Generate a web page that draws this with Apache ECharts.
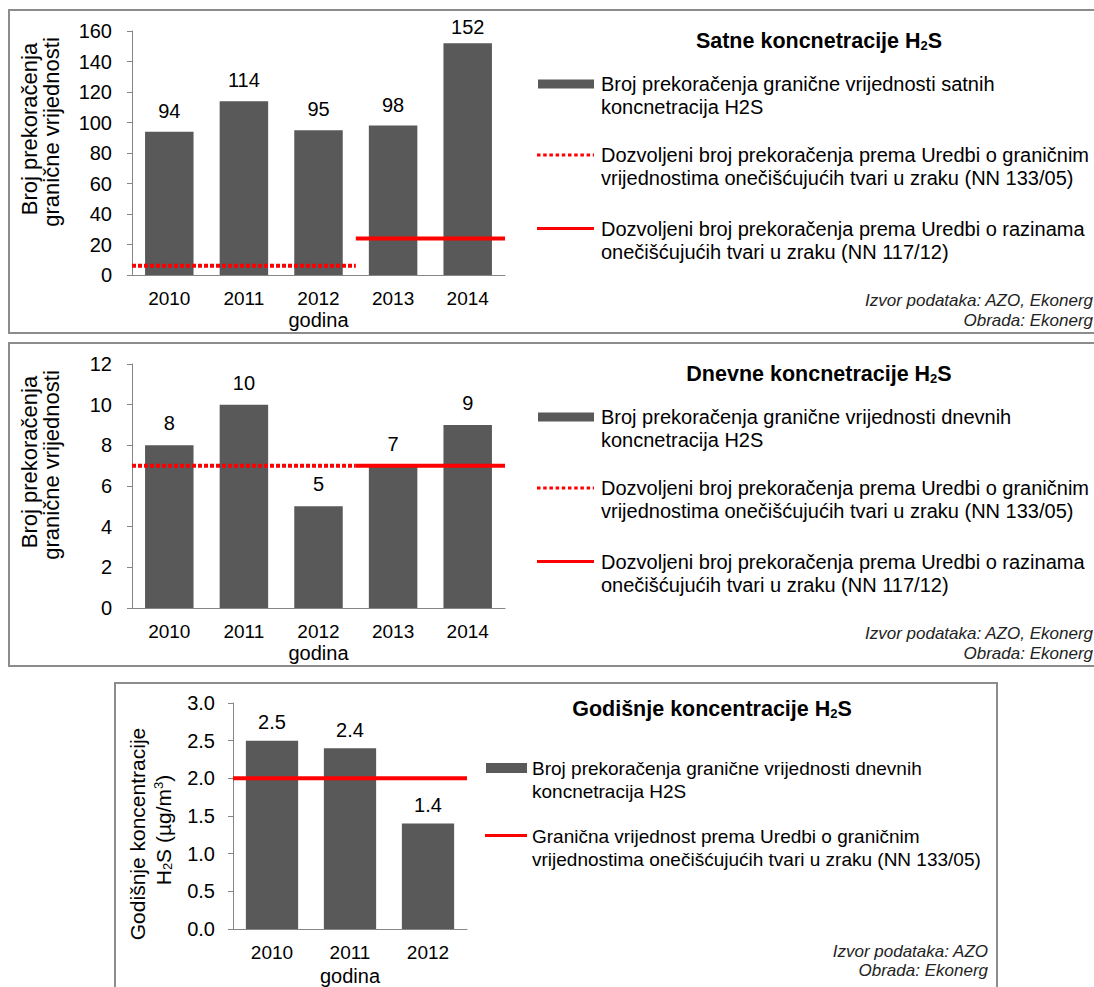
<!DOCTYPE html>
<html>
<head>
<meta charset="utf-8">
<script src="https://cdn.jsdelivr.net/npm/echarts@6/dist/echarts.min.js"></script>
<style>
  html, body { margin: 0; padding: 0; background: #ffffff; }
  #chart { width: 1094px; height: 987px; }
</style>
</head>
<body>
<div id="chart"></div>
<script>
// ---- data ----------------------------------------------------------------
// Years shown on each category axis
const yearsHourly = ['2010', '2011', '2012', '2013', '2014'];
const yearsDaily  = ['2010', '2011', '2012', '2013', '2014'];
const yearsAnnual = ['2010', '2011', '2012'];

// Number of exceedances of the hourly and daily H2S limit values
const hourlyExceedances = [94, 114, 95, 98, 152];
const dailyExceedances  = [8, 10, 5, 7, 9];
// Annual mean H2S concentration (µg/m³)
const annualMean = [2.5, 2.4, 1.4];

// Permitted number of exceedances under the two regulations
const hourlyAllowedOld = 6;    // NN 133/05
const hourlyAllowedNew = 24;   // NN 117/12
const dailyAllowedOld  = 7;    // NN 133/05
const dailyAllowedNew  = 7;    // NN 117/12
const oldRuleYears = ['2010', '2012'];
const newRuleYears = ['2013', '2014'];
// Annual limit value (NN 133/05)
const annualLimit = 2.0;
const annualLimitYears = ['2010', '2012'];

// Value-axis ranges
const hourlyRange = { min: 0, max: 160, interval: 20 };
const dailyRange  = { min: 0, max: 12,  interval: 2 };
const annualRange = { min: 0, max: 3,   interval: 0.5 };

// Texts
const titles = ['Satne koncnetracije H', 'Dnevne koncnetracije H', 'Godišnje koncentracije H'];
const legendHourly = [
  'Broj prekoračenja granične vrijednosti satnih\nkoncnetracija H2S',
  'Dozvoljeni broj prekoračenja prema Uredbi o graničnim\nvrijednostima onečišćujućih tvari u zraku (NN 133/05)',
  'Dozvoljeni broj prekoračenja prema Uredbi o razinama\nonečišćujućih tvari u zraku (NN 117/12)'
];
const legendDaily = [
  'Broj prekoračenja granične vrijednosti dnevnih\nkoncnetracija H2S',
  legendHourly[1],
  legendHourly[2]
];
const legendAnnual = [
  'Broj prekoračenja granične vrijednosti dnevnih\nkoncnetracija H2S',
  'Granična vrijednost prema Uredbi o graničnim\nvrijednostima onečišćujućih tvari u zraku (NN 133/05)'
];
const sourceFull = 'Izvor podataka: AZO, Ekonerg\nObrada: Ekonerg';
const sourceShort = 'Izvor podataka: AZO\nObrada: Ekonerg';
const axisNameCount = ['Broj prekoračenja', 'granične vrijednosti'];
const axisNameAnnual = 'Godišnje koncentracije';
const xAxisName = 'godina';

// ---- styling -------------------------------------------------------------
const FONT = '"Liberation Sans", Arial, Helvetica, sans-serif';
const BAR = '#595959';
const RED = '#ff0000';
const AXIS = '#868686';
const FRAME = '#8c8c8c';

// Converts a year range into band edges on a 0..N value axis
function limitLine(years, range, value) {
  const a = years.indexOf(range[0]);
  const b = years.indexOf(range[1]) + 1;
  return [[a, value], [b, value]];
}

function categoryAxis(grid, years, gap) {
  return {
    type: 'category', gridIndex: grid, data: years,
    axisLine: { lineStyle: { color: AXIS, width: 1 } },
    axisTick: { length: 6, lineStyle: { color: AXIS } },
    axisLabel: { color: '#000', fontFamily: FONT, fontSize: 19, margin: 14 },
    name: xAxisName, nameLocation: 'middle', nameGap: gap,
    nameTextStyle: { color: '#000', fontFamily: FONT, fontSize: 20 }
  };
}
function valueAxis(grid, range, margin, fmt) {
  return {
    type: 'value', gridIndex: grid,
    min: range.min, max: range.max, interval: range.interval,
    axisLine: { show: true, lineStyle: { color: AXIS, width: 1 } },
    axisTick: { show: true, length: 5, lineStyle: { color: AXIS } },
    splitLine: { show: false },
    axisLabel: { color: '#000', fontFamily: FONT, fontSize: 20, margin: margin, formatter: fmt }
  };
}
function hiddenBandAxis(grid, n) {
  return { type: 'value', gridIndex: grid, min: 0, max: n, show: false };
}
function barSeries(xi, yi, values, dist, layout) {
  return {
    type: 'bar', xAxisIndex: xi, yAxisIndex: yi, data: values,
    barWidth: '65%', itemStyle: { color: BAR },
    label: { show: true, position: 'top', distance: dist, color: '#000',
             fontFamily: FONT, fontSize: 20 },
    labelLayout: layout, z: 2
  };
}
function limitSeries(xi, yi, pts, dotted) {
  return {
    type: 'line', xAxisIndex: xi, yAxisIndex: yi, data: pts,
    symbol: 'none', silent: true, z: 4,
    lineStyle: { color: RED, width: 4, type: dotted ? [4, 2] : 'solid', cap: 'butt' }
  };
}

// ---- decorative elements: frames, titles, legends, axis titles -----------
const graphics = [];
function text(x, y, str, o) {
  graphics.push({
    type: 'text', x: x, y: y, rotation: o.rotation || 0, silent: true,
    style: Object.assign({
      text: str, fill: '#000', fontFamily: FONT, fontSize: 20,
      align: o.align || 'left', verticalAlign: o.va || 'top',
      textAlign: o.align || 'left', textVerticalAlign: o.va || 'top'
    }, o.style || {})
  });
}
function frame(x, y, w, h) {
  graphics.push({ type: 'rect', silent: true, shape: { x: x, y: y, width: w, height: h },
                  style: { fill: 'none', stroke: FRAME, lineWidth: 2 } });
}
function title(cx, cy, str) {
  text(cx, cy, '{t|' + str + '}{s|2}{t|S}', {
    align: 'center', va: 'middle',
    style: { rich: {
      t: { fontFamily: FONT, fontSize: 21.5, fontWeight: 'bold', fill: '#000', lineHeight: 22 },
      s: { fontFamily: FONT, fontSize: 13, fontWeight: 'bold', fill: '#000', lineHeight: 8, verticalAlign: 'bottom' }
    } }
  });
}
function legendBar(x, y, w, h) {
  graphics.push({ type: 'rect', silent: true, shape: { x: x, y: y, width: w, height: h },
                  style: { fill: BAR } });
}
function legendLine(x1, x2, y, dotted) {
  graphics.push({ type: 'line', silent: true, shape: { x1: x1, y1: y, x2: x2, y2: y },
                  style: { stroke: RED, lineWidth: 3, lineDash: dotted ? [3.5, 2.7] : null } });
}

// Panels 1 and 2 share one layout; panel 2 sits 333px lower
[[0, legendHourly, titles[0]], [333, legendDaily, titles[1]]].forEach(function (p) {
  const oy = p[0];
  frame(9, 10 + oy, 1100, 323);
  title(819, 41 + oy, p[2]);
  legendBar(538, 79.5 + oy, 56, 9);
  legendLine(537, 594, 155 + oy, true);
  legendLine(537, 594, 228.5 + oy, false);
  const rows = [84, 155, 229];
  p[1].forEach(function (s, i) {
    text(601, rows[i] - 11.5 + oy, s, { style: { lineHeight: 23, fontSize: 20 } });
  });
  text(1093, 290 + oy, sourceFull, { align: 'right',
    style: { fontSize: 17, fontStyle: 'italic', lineHeight: 20, fill: '#222' } });
  text(29, 129 + oy, axisNameCount[0], { align: 'center', va: 'middle', rotation: Math.PI / 2,
    style: { fontSize: 22 } });
  text(51, 132 + oy, axisNameCount[1], { align: 'center', va: 'middle', rotation: Math.PI / 2,
    style: { fontSize: 22 } });
});

// Panel 3
frame(115, 683, 882, 330);
title(712, 709, titles[2]);
legendBar(486, 763, 41, 10);
legendLine(485, 527, 835.5, false);
text(532, 768 - 11.5, legendAnnual[0], { style: { lineHeight: 23, fontSize: 19 } });
text(532, 836 - 11.5, legendAnnual[1], { style: { lineHeight: 23, fontSize: 19 } });
text(988, 941.5, sourceShort, { align: 'right',
  style: { fontSize: 17, fontStyle: 'italic', lineHeight: 19, fill: '#222' } });
text(137, 834, axisNameAnnual, { align: 'center', va: 'middle', rotation: Math.PI / 2,
  style: { fontSize: 21 } });
text(163, 830, '{a|H}{b|2}{a|S (µg/m}{c|3}{a|)}', { align: 'center', va: 'middle', rotation: Math.PI / 2,
  style: { rich: {
    a: { fontFamily: FONT, fontSize: 21, fill: '#000', lineHeight: 22 },
    b: { fontFamily: FONT, fontSize: 13, fill: '#000', lineHeight: 8, verticalAlign: 'bottom' },
    c: { fontFamily: FONT, fontSize: 13, fill: '#000', lineHeight: 10, verticalAlign: 'top' }
  } } });

// Keeps the tallest hourly label inside the frame
function keepInsideTop(params) {
  const minY = 16.7;
  return params.labelRect.y < minY ? { dy: minY - params.labelRect.y } : {};
}

const option = {
  animation: false,
  backgroundColor: '#ffffff',
  grid: [
    { left: 132, top: 31,  width: 373, height: 244 },
    { left: 132, top: 364, width: 373, height: 244 },
    { left: 233, top: 703, width: 234, height: 229 }
  ],
  xAxis: [
    categoryAxis(0, yearsHourly, 35),
    categoryAxis(1, yearsDaily, 35),
    categoryAxis(2, yearsAnnual, 37),
    hiddenBandAxis(0, yearsHourly.length),
    hiddenBandAxis(1, yearsDaily.length),
    hiddenBandAxis(2, yearsAnnual.length)
  ],
  yAxis: [
    valueAxis(0, hourlyRange, 20),
    valueAxis(1, dailyRange, 20),
    valueAxis(2, annualRange, 18, function (v) { return v.toFixed(1); })
  ],
  series: [
    barSeries(0, 0, hourlyExceedances, 11, keepInsideTop),
    barSeries(1, 1, dailyExceedances, 12),
    Object.assign(barSeries(2, 2, annualMean, 8.5), { barWidth: '67%' }),
    limitSeries(3, 0, limitLine(yearsHourly, oldRuleYears, hourlyAllowedOld), true),
    limitSeries(3, 0, limitLine(yearsHourly, newRuleYears, hourlyAllowedNew), false),
    limitSeries(4, 1, limitLine(yearsDaily, oldRuleYears, dailyAllowedOld), true),
    limitSeries(4, 1, limitLine(yearsDaily, newRuleYears, dailyAllowedNew), false),
    limitSeries(5, 2, limitLine(yearsAnnual, annualLimitYears, annualLimit), false)
  ],
  graphic: { elements: graphics }
};

const chart = echarts.init(document.getElementById('chart'), null, { renderer: 'svg' });
chart.setOption(option);
</script>
</body>
</html>
